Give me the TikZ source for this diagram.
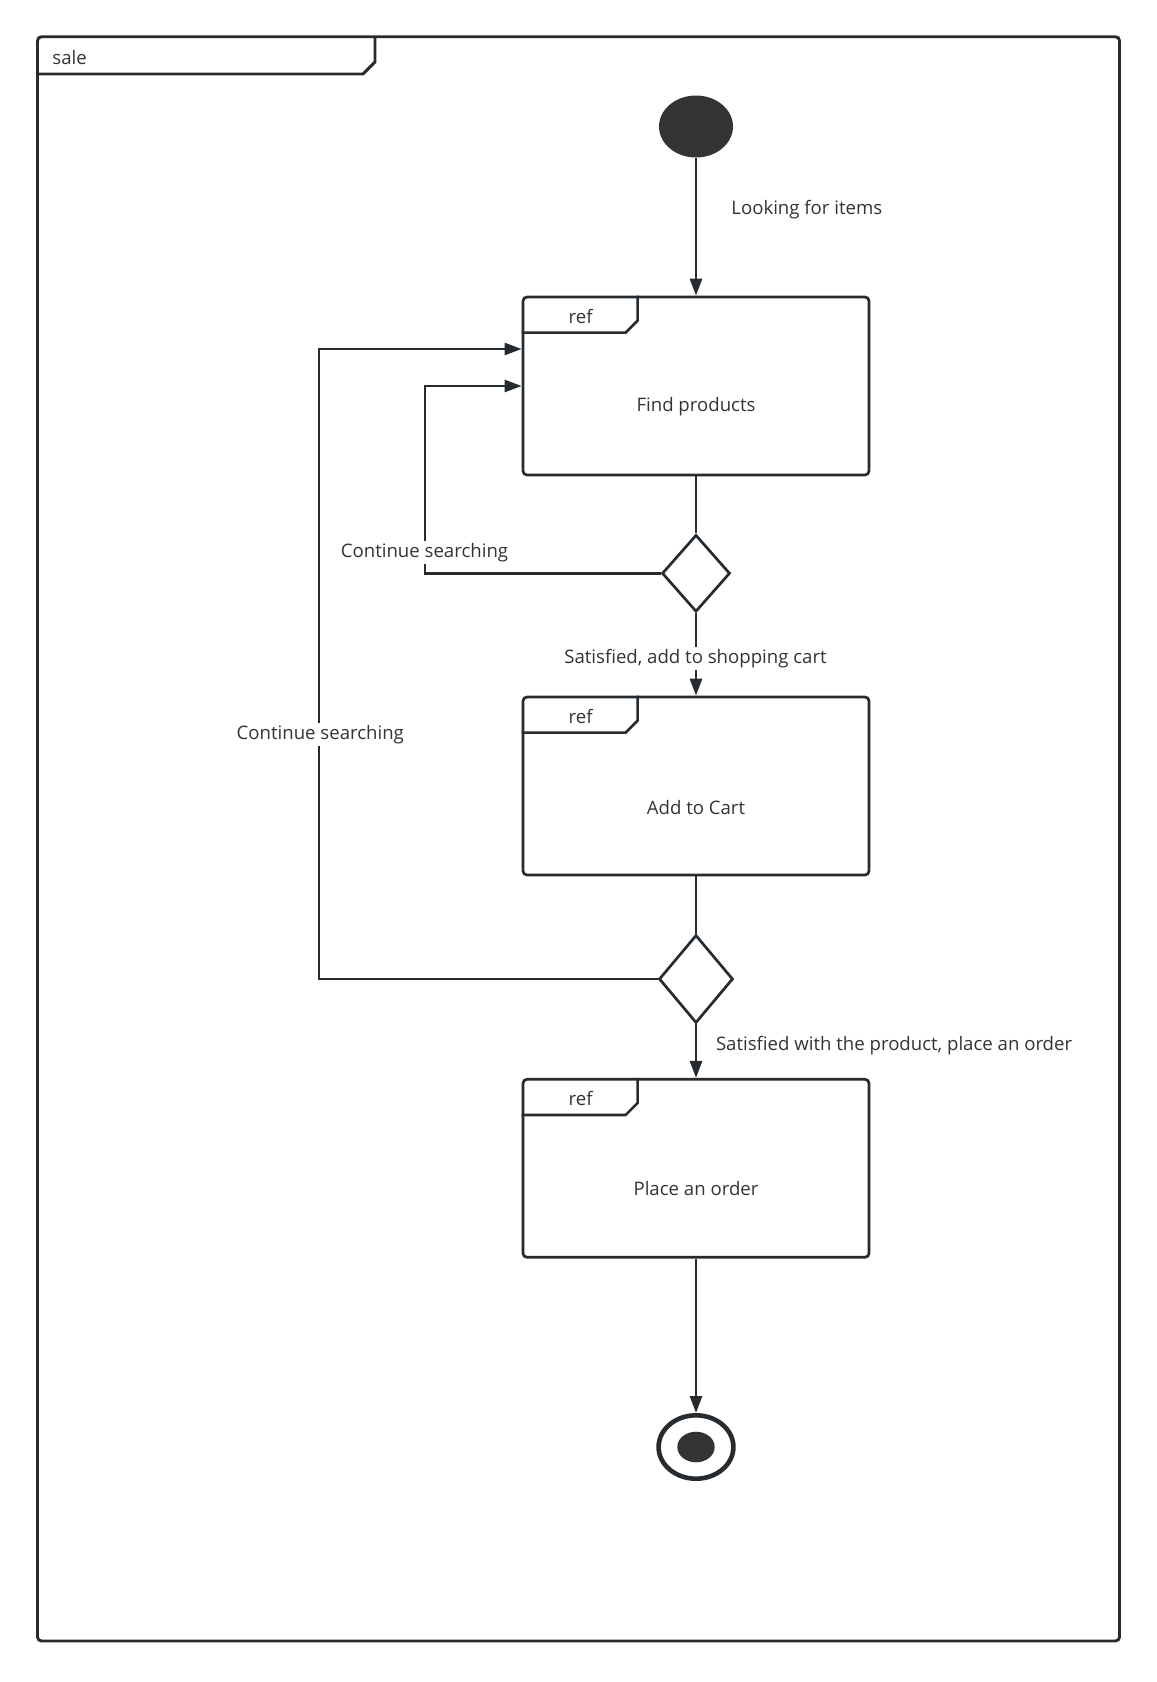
\documentclass[tikz,border=0pt]{standalone}
\usepackage{fontspec}
\setmainfont{Open Sans}
\usetikzlibrary{arrows.meta,shapes.geometric}
\definecolor{ink}{HTML}{262B30}
\definecolor{txt}{HTML}{333333}
\newcommand{\RefTab}[1]{%
\draw[line width=1.3pt,ink] (#1.north west) ++(0,37) -- ++(104,0) -- ++(12,-12) -- ++(0,-25);
\path (#1.north west) ++(59,21) node[txt] {ref};}

\begin{document}
\begin{tikzpicture}[x=0.5pt,y=-0.5pt,font=\fontsize{9.3}{11}\selectfont,
  >={Triangle[length=8.5pt,width=6pt]},
  act/.style={draw=ink,line width=1.35pt,rounded corners=2pt,minimum width=173pt,minimum height=89pt,inner sep=0pt},
  choice/.style={draw=ink,line width=1.35pt,diamond,inner sep=0pt},
  flow/.style={draw=ink,line width=1.25pt},
  lbl/.style={text=txt,fill=white,inner sep=1pt}]
\useasboundingbox (0,0) rectangle (1157,1682);

% frame
\draw[line width=1.45pt,ink,rounded corners=2pt] (37.5,36.7) rectangle (1119.5,1641);
\draw[line width=1.45pt,ink] (37.5,74) -- (363,74) -- (375,62) -- (375,36.7);
\node[txt,anchor=west,inner sep=0pt] (sale) at (52,58) {sale};

% nodes
\node[ellipse,fill=txt,minimum width=37pt,minimum height=31pt,inner sep=0pt] (start) at (696,126.5) {};
\node[act] (find) at (696,386) {};
\node[choice,minimum width=34pt,minimum height=38.5pt] (d1) at (696,573.3) {};
\node[act] (cart) at (696,786) {};
\node[choice,minimum width=37pt,minimum height=44pt] (d2) at (696,979) {};
\node[act] (order) at (696,1168.3) {};
\node[ellipse,draw=ink,line width=2.3pt,minimum width=37.4pt,minimum height=31.7pt,inner sep=0pt] (stop) at (696,1447) {};
\node[ellipse,fill=txt,minimum width=18.7pt,minimum height=15.3pt,inner sep=0pt] (stopdot) at (696,1447) {};

\RefTab{find}
\RefTab{cart}
\RefTab{order}
\node[txt] (find-t) at (696,407) {Find products};
\node[txt] (cart-t) at (696,807.5) {Add to Cart};
\node[txt] (order-t) at (696,1189) {Place an order};

\coordinate (loopA) at (425,386);
\coordinate (loopB) at (319,349);

% flows
\draw[flow,->] (start) -- (find);
\draw[flow] (find) -- (d1);
\draw[flow,->] (d1.west) -| (loopA) -- (find.west);
\draw[flow,->] (d1) -- (cart);
\draw[flow] (cart) -- (d2);
\draw[flow,->] (d2.west) -| (loopB) -- (loopB -| find.west);
\draw[flow,->] (d2) -- (order);
\draw[flow,->] (order) -- (stop);

% labels
\node[txt,anchor=west,inner sep=0pt] (l-look) at (731,210) {Looking for items};
\node[lbl] (l-cont1) at (424.5,552.6) {Continue searching};
\node[lbl] (l-sat1) at (695.5,658.6) {Satisfied, add to shopping cart};
\node[lbl] (l-cont2) at (320.3,734.7) {Continue searching};
\node[txt,anchor=west,inner sep=0pt] (l-sat2) at (715.6,1045.4) {Satisfied with the product, place an order};
\end{tikzpicture}
\end{document}
